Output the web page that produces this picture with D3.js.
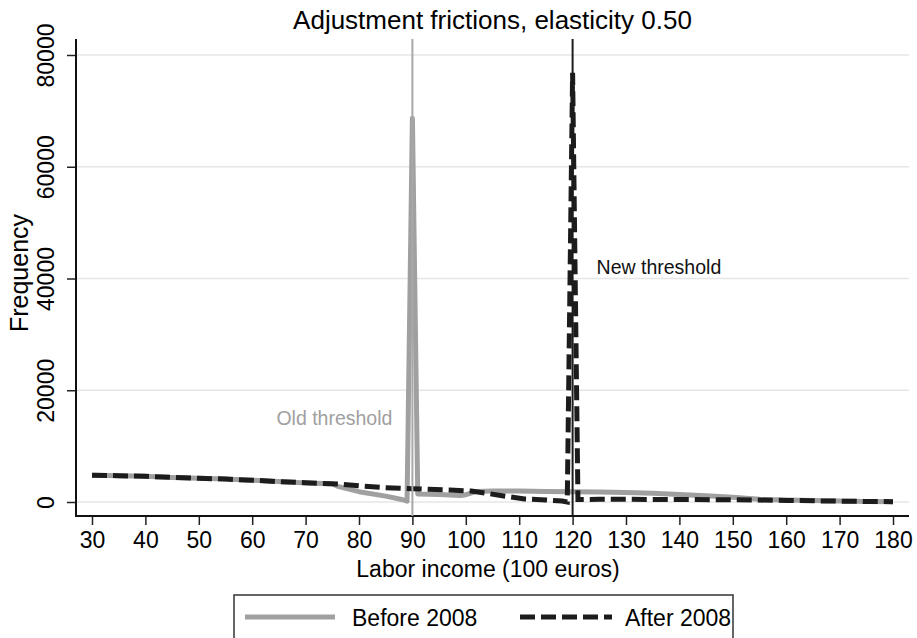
<!DOCTYPE html>
<html>
<head>
<meta charset="utf-8">
<script src="https://cdn.jsdelivr.net/npm/d3@7"></script>
<style>
	body { margin: 0; background: #fff; }
	text { font-family: "Liberation Sans", Arial, Helvetica, sans-serif; }
</style>
</head>
<body>
<svg width="917" height="638"></svg>
<script>
// income bins (100 euros) and frequencies
var beforeX = [30, 35, 40, 45, 50, 55, 60, 65, 70, 75, 76, 80, 85, 88, 89, 90, 91, 95, 99, 100, 102, 105, 110, 115, 120, 125, 130, 135, 140, 145, 150, 155, 160, 165, 170, 175, 180];
var beforeY = [4800, 4700, 4600, 4400, 4250, 4100, 3900, 3650, 3400, 3250, 2800, 1850, 1050, 450, 150, 68700, 1450, 1350, 1150, 1300, 1900, 1950, 1950, 1900, 1850, 1800, 1700, 1550, 1350, 1100, 850, 480, 350, 280, 200, 100, 30];

var afterX = [30, 35, 40, 45, 50, 55, 60, 65, 70, 76, 80, 85, 90, 93, 97, 101, 104, 108, 111, 115, 118, 119, 120, 121, 125, 130, 140, 150, 154, 160, 170, 180];
var afterY = [4800, 4700, 4600, 4400, 4250, 4100, 3900, 3650, 3450, 3200, 2900, 2560, 2380, 2270, 2150, 1970, 1550, 950, 540, 360, 180, 0, 76800, 450, 470, 480, 450, 400, 360, 280, 150, 50];

var xTicks = [30, 40, 50, 60, 70, 80, 90, 100, 110, 120, 130, 140, 150, 160, 170, 180];
var yTicks = [0, 20000, 40000, 60000, 80000];

var thresholds = [90, 120];
var thresholdNames = ["Old threshold", "New threshold"];
var thresholdLabelY = [15000, 42000];

var seriesNames = ["Before 2008", "After 2008"];

var svg = d3.select("svg"),
	width = +svg.attr("width"),
	height = +svg.attr("height");

var plotLeft = 76, plotRight = 909, plotTop = 39, plotBottom = 516;

var x = d3.scaleLinear().domain([30, 180]).range([92, 893]);
var y = d3.scaleLinear().domain([0, 80000]).range([502, 55]);

var before = beforeX.map(function(d, i) { return { x: d, y: beforeY[i] }; });
var after = afterX.map(function(d, i) { return { x: d, y: afterY[i] }; });

var line = d3.line()
	.x(function(d) { return x(d.x); })
	.y(function(d) { return y(d.y); });

//title
svg.append("text")
	.attr("x", (plotLeft + plotRight) / 2)
	.attr("y", 29)
	.attr("text-anchor", "middle")
	.style("font-size", "26px")
	.text("Adjustment frictions, elasticity 0.50");

//grid lines
svg.append("g")
	.selectAll("line")
	.data(yTicks)
	.enter().append("line")
		.attr("x1", plotLeft)
		.attr("x2", plotRight)
		.attr("y1", function(d) { return y(d); })
		.attr("y2", function(d) { return y(d); })
		.attr("stroke", "#e6e6e6")
		.attr("stroke-width", 1.5);

//y axis
var yAxis = svg.append("g")
	.attr("transform", "translate(" + plotLeft + ",0)")
	.call(d3.axisLeft(y).tickValues(yTicks).tickSize(9).tickFormat(d3.format("d")));
yAxis.select(".domain").remove();
yAxis.selectAll(".tick line").attr("stroke", "#222").attr("stroke-width", 1.5);
yAxis.selectAll(".tick text")
	.attr("x", null).attr("dy", null)
	.attr("transform", "translate(-22,0) rotate(-90)")
	.attr("text-anchor", "middle")
	.attr("fill", "#000")
	.style("font-size", "23px");

//x axis
var xAxis = svg.append("g")
	.attr("transform", "translate(0," + plotBottom + ")")
	.call(d3.axisBottom(x).tickValues(xTicks).tickSize(9));
xAxis.select(".domain").remove();
xAxis.selectAll(".tick line").attr("stroke", "#222").attr("stroke-width", 1.5);
xAxis.selectAll(".tick text")
	.attr("y", 32).attr("dy", null)
	.attr("fill", "#000")
	.style("font-size", "23px");

svg.append("line")
	.attr("x1", plotLeft).attr("x2", plotLeft)
	.attr("y1", plotTop).attr("y2", plotBottom + 1)
	.attr("stroke", "#111").attr("stroke-width", 2);
svg.append("line")
	.attr("x1", plotLeft).attr("x2", plotRight)
	.attr("y1", plotBottom).attr("y2", plotBottom)
	.attr("stroke", "#111").attr("stroke-width", 2);

//axis titles
svg.append("text")
	.attr("transform", "translate(28,273) rotate(-90)")
	.attr("text-anchor", "middle")
	.style("font-size", "25px")
	.text("Frequency");
svg.append("text")
	.attr("x", 488)
	.attr("y", 577)
	.attr("text-anchor", "middle")
	.style("font-size", "23px")
	.text("Labor income (100 euros)");

//series
svg.append("path")
	.datum(before)
	.attr("d", line)
	.attr("fill", "none")
	.attr("stroke", "#a0a0a0")
	.attr("stroke-width", 5)
	.attr("stroke-linejoin", "round");

svg.append("path")
	.datum(after)
	.attr("d", line)
	.attr("fill", "none")
	.attr("stroke", "#1c1c1c")
	.attr("stroke-width", 5)
	.attr("stroke-dasharray", "15,6");

//threshold lines
var tColors = ["#a8a8a8", "#1c1c1c"];
svg.append("g")
	.selectAll("line")
	.data(thresholds)
	.enter().append("line")
		.attr("x1", function(d) { return x(d); })
		.attr("x2", function(d) { return x(d); })
		.attr("y1", plotTop)
		.attr("y2", plotBottom)
		.attr("stroke", function(d, i) { return tColors[i]; })
		.attr("stroke-width", 2);

svg.append("text")
	.attr("x", x(thresholds[0]) - 20)
	.attr("y", y(thresholdLabelY[0]))
	.attr("dy", "0.35em")
	.attr("text-anchor", "end")
	.attr("fill", "#a0a0a0")
	.style("font-size", "19.5px")
	.text(thresholdNames[0]);
svg.append("text")
	.attr("x", x(thresholds[1]) + 24)
	.attr("y", y(thresholdLabelY[1]))
	.attr("dy", "0.35em")
	.attr("fill", "#111")
	.style("font-size", "19.5px")
	.text(thresholdNames[1]);

//legend
var legend = svg.append("g");
legend.append("rect")
	.attr("x", 234).attr("y", 595)
	.attr("width", 499).attr("height", 70)
	.attr("fill", "#fff")
	.attr("stroke", "#333")
	.attr("stroke-width", 1.5);
legend.append("line")
	.attr("x1", 245).attr("x2", 335)
	.attr("y1", 617).attr("y2", 617)
	.attr("stroke", "#a0a0a0").attr("stroke-width", 5);
legend.append("text")
	.attr("x", 352).attr("y", 626)
	.style("font-size", "23px")
	.text(seriesNames[0]);
legend.append("line")
	.attr("x1", 520).attr("x2", 612)
	.attr("y1", 617).attr("y2", 617)
	.attr("stroke", "#1c1c1c").attr("stroke-width", 5)
	.attr("stroke-dasharray", "15,6");
legend.append("text")
	.attr("x", 625).attr("y", 626)
	.style("font-size", "23px")
	.text(seriesNames[1]);
</script>
</body>
</html>
